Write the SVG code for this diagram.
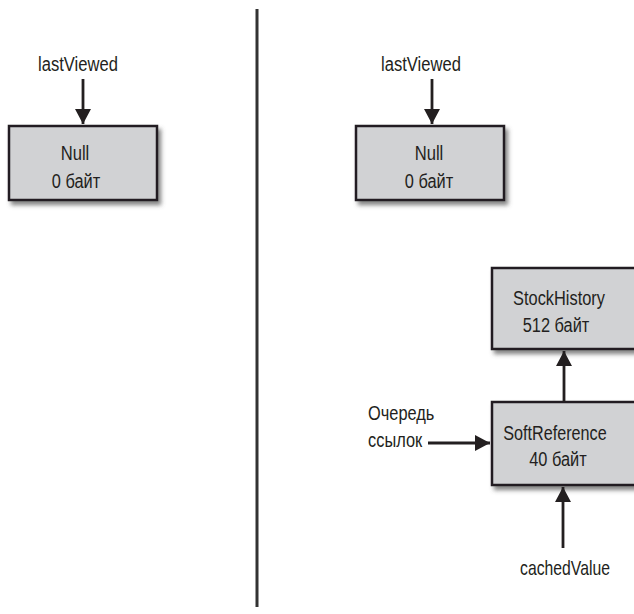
<svg xmlns="http://www.w3.org/2000/svg" width="634" height="614" viewBox="0 0 634 614">
<style>
.box{fill:#d1d2d4;stroke:#231f20;stroke-width:2.5;filter:url(#sh)}
.t{font-family:"Liberation Sans",Arial,sans-serif;font-size:21px;fill:#231f20}
.c{text-anchor:middle}
.ln{stroke:#231f20;stroke-width:2.8;fill:none;marker-end:url(#ah)}
</style>
<defs>
<filter id="sh" x="-10%" y="-10%" width="130%" height="140%">
<feDropShadow dx="3" dy="4" stdDeviation="2.2" flood-color="#555" flood-opacity="0.7"/>
</filter>
<marker id="ah" markerUnits="userSpaceOnUse" markerWidth="16" markerHeight="16" viewBox="0 0 16 16" refX="15" refY="8" orient="auto">
<path d="M0,0 L15,8 L0,16 Z" fill="#231f20"/>
</marker>
</defs>

<line x1="257" y1="9" x2="257" y2="607" stroke="#333" stroke-width="3"/>

<g id="left-lastViewed"><text class="t c" transform="translate(78,71) scale(0.79,1)">lastViewed</text></g>
<g id="left-null">
<rect class="box" x="9" y="126" width="148" height="74"/>
<text class="t c" transform="translate(75,160) scale(0.79,1)">Null</text>
<text class="t c" transform="translate(76,188) scale(0.78,1)">0 байт</text>
</g>

<g id="right-lastViewed"><text class="t c" transform="translate(421,71) scale(0.79,1)">lastViewed</text></g>
<g id="right-null">
<rect class="box" x="356" y="126" width="148" height="74"/>
<text class="t c" transform="translate(429,160) scale(0.79,1)">Null</text>
<text class="t c" transform="translate(429,188) scale(0.78,1)">0 байт</text>
</g>

<g id="stockhistory">
<rect class="box" x="492" y="268" width="150" height="81"/>
<text class="t c" transform="translate(559,305) scale(0.78,1)">StockHistory</text>
<text class="t c" transform="translate(556,332) scale(0.78,1)">512 байт</text>
</g>

<g id="softreference">
<rect class="box" x="492" y="402" width="150" height="83"/>
<text class="t c" transform="translate(555,440) scale(0.77,1)">SoftReference</text>
<text class="t c" transform="translate(558,466) scale(0.78,1)">40 байт</text>
</g>

<g id="queue-label">
<text class="t" transform="translate(368,420) scale(0.78,1)">Очередь</text>
<text class="t" transform="translate(368,447) scale(0.78,1)">ссылок</text>
</g>

<g id="cachedValue"><text class="t c" transform="translate(565,575) scale(0.75,1)">cachedValue</text></g>

<g id="connectors">
<line class="ln" x1="83" y1="79" x2="83" y2="124"/>
<line class="ln" x1="432" y1="79" x2="432" y2="124"/>
<line class="ln" x1="564" y1="402" x2="564" y2="351"/>
<line class="ln" x1="428" y1="443" x2="490" y2="443"/>
<line class="ln" x1="563" y1="548" x2="563" y2="487"/>
</g>
</svg>
